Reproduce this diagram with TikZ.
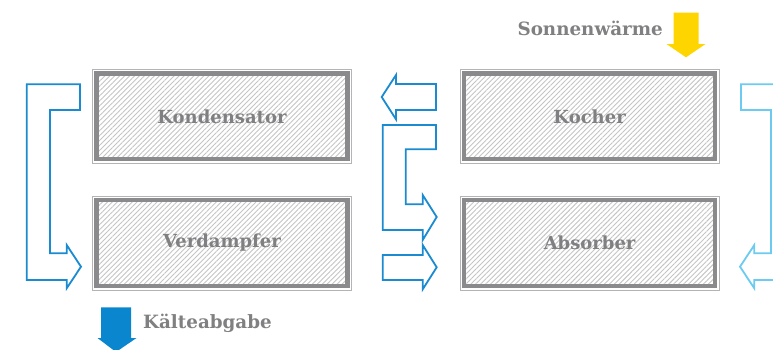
\documentclass[tikz,border=0pt]{standalone}
\usepackage{fontspec}
\setmainfont{DejaVu Serif}
\usetikzlibrary{patterns.meta}
\definecolor{frameout}{HTML}{B4B4B6}
\definecolor{framein}{HTML}{8A8A8C}
\definecolor{hatchgray}{HTML}{C4C4C6}
\definecolor{labelgray}{HTML}{808082}
\definecolor{flowblue}{HTML}{1A8BD0}
\definecolor{paleblue}{HTML}{6BCBF0}
\definecolor{coldblue}{HTML}{0A86CF}
\definecolor{sunyellow}{HTML}{FFD500}
\tikzset{
  unit/.style={draw=frameout, line width=1pt, minimum width=259pt, minimum height=94pt,
    inner sep=0pt, font=\bfseries\fontsize{18}{20}\selectfont, text=labelgray},
  innerframe/.style={draw=framein, line width=4.5pt,
    pattern={Lines[angle=45,distance=3.5pt,line width=0.9pt]}, pattern color=hatchgray},
  flow/.style={draw=flowblue, line width=1.8pt, line join=miter, fill=white},
  flowpale/.style={draw=paleblue, line width=1.8pt, line join=miter, fill=white},
  caption/.style={font=\bfseries\fontsize{18.3}{20}\selectfont, text=labelgray, inner sep=0pt}
}
\newcommand{\unitbox}[3]{%
  \node[unit] (#1) at #2 {};
  \draw[innerframe] ([shift={(4.6,4.6)}]#1.north west) rectangle ([shift={(-4.6,-4.6)}]#1.south east);
  \node[unit, draw=none] at (#1.center) {#3};
}
\begin{document}
\begin{tikzpicture}[x=1pt,y=-1pt]
\useasboundingbox (0,0) rectangle (773,349);
\clip (0,0) rectangle (773,349);

% the four units
\unitbox{kond}{(222,116.3)}{Kondensator}
\unitbox{verd}{(222,243)}{Verdampfer}
\unitbox{koch}{(589.6,116.3)}{Kocher}
\unitbox{abso}{(589.6,243)}{Absorber}

% left loop: condenser to evaporator
\draw[flow] (26.7,84.3) -- (80,84.3) -- (80,110) -- (50,110) -- (50,253.3) -- (66.7,253.3)
  -- (66.7,245) -- (81,266.7) -- (66.7,288.3) -- (66.7,280) -- (26.7,280) -- cycle;

% middle: generator to condenser
\draw[flow] (436,84) -- (396,84) -- (396,75) -- (381.7,97) -- (396,119.3) -- (396,110)
  -- (436,110) -- cycle;

% middle: loop back into the absorber
\draw[flow] (382.7,125) -- (436,125) -- (436,149.3) -- (405.7,149.3) -- (405.7,204.3)
  -- (422.7,204.3) -- (422.7,195) -- (436.7,217) -- (422.7,240) -- (422.7,230)
  -- (382.7,230) -- cycle;

% middle: evaporator to absorber
\draw[flow] (382.7,255) -- (422.7,255) -- (422.7,245) -- (436.7,267.3) -- (422.7,289.3)
  -- (422.7,280) -- (382.7,280) -- cycle;

% right loop: generator to absorber
\draw[flowpale] (741,84.3) -- (794.3,84.3) -- (794.3,280) -- (754.3,280) -- (754.3,288.3)
  -- (740,266.7) -- (754.3,245) -- (754.3,253.3) -- (771,253.3) -- (771,110)
  -- (741,110) -- cycle;

% solar heat input
\fill[sunyellow] (673.5,12.7) -- (698.5,12.7) -- (698.5,44) -- (705.5,44) -- (686,57.3)
  -- (666.5,44) -- (673.5,44) -- cycle;
\node[caption, anchor=base east] (sun) at (663,35) {Sonnenwärme};

% cooling output
\fill[coldblue] (101,307.3) -- (131,307.3) -- (131,338) -- (136.5,338) -- (116,352)
  -- (97.5,338) -- (101,338) -- cycle;
\node[caption, anchor=base west] (cold) at (143,328) {Kälteabgabe};
\end{tikzpicture}
\end{document}
